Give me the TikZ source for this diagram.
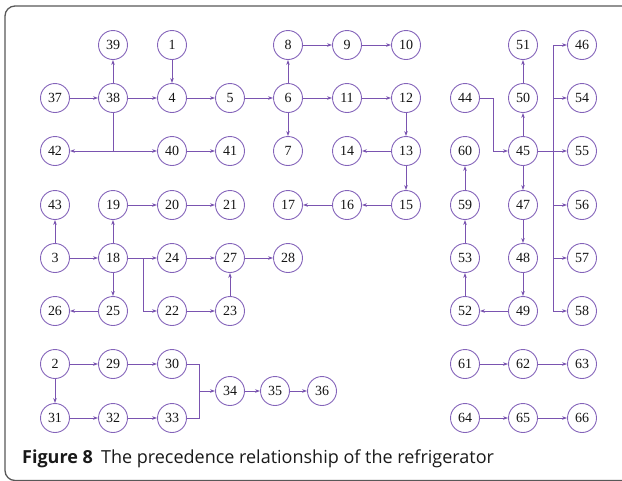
\documentclass[tikz,border=0pt]{standalone}
\usepackage{fontspec}
\setmainfont{Liberation Serif}
\newfontfamily\capfont{Open Sans}
\usetikzlibrary{arrows.meta}

\definecolor{nodecol}{RGB}{132,100,186}
\definecolor{edgecol}{RGB}{122,84,176}
\definecolor{framecol}{RGB}{88,88,88}
\definecolor{captext}{RGB}{25,25,25}
\definecolor{numtext}{RGB}{20,20,20}

\tikzset{
  task/.style={circle, draw=nodecol, line width=0.9pt, minimum size=29pt,
               inner sep=0pt, text=numtext, font=\fontsize{14}{14}\selectfont},
  link/.style={draw=edgecol, line width=0.9pt},
  arr/.style={link, -{Stealth[length=5pt,width=3.6pt]}},
}

\begin{document}
\begin{tikzpicture}[x=1pt, y=-1pt]
\useasboundingbox (0,0) rectangle (622,480);
\clip (0,0) rectangle (622,480);

% outer frame
\draw[framecol, line width=1.3pt, rounded corners=10pt] (626,6) -- (5,6) -- (5,480.5) -- (626,480.5);

% column and row positions
\def\ca{55}\def\cb{113}\def\cc{172}\def\cd{230}\def\ce{288}
\def\cf{347}\def\cg{406}\def\ch{465}\def\ci{523}\def\cj{582}
\def\ra{45}\def\rb{98}\def\rc{151}\def\rd{205}\def\re{258}
\def\rf{311}\def\rg{364}\def\rh{418}

% row 1
\node[task] (n39) at (\cb,\ra) {39};
\node[task] (n1)  at (\cc,\ra) {1};
\node[task] (n8)  at (\ce,\ra) {8};
\node[task] (n9)  at (\cf,\ra) {9};
\node[task] (n10) at (\cg,\ra) {10};
\node[task] (n51) at (\ci,\ra) {51};
\node[task] (n46) at (\cj,\ra) {46};
% row 2
\node[task] (n37) at (\ca,\rb) {37};
\node[task] (n38) at (\cb,\rb) {38};
\node[task] (n4)  at (\cc,\rb) {4};
\node[task] (n5)  at (\cd,\rb) {5};
\node[task] (n6)  at (\ce,\rb) {6};
\node[task] (n11) at (\cf,\rb) {11};
\node[task] (n12) at (\cg,\rb) {12};
\node[task] (n44) at (\ch,\rb) {44};
\node[task] (n50) at (\ci,\rb) {50};
\node[task] (n54) at (\cj,\rb) {54};
% row 3
\node[task] (n42) at (\ca,\rc) {42};
\node[task] (n40) at (\cc,\rc) {40};
\node[task] (n41) at (\cd,\rc) {41};
\node[task] (n7)  at (\ce,\rc) {7};
\node[task] (n14) at (\cf,\rc) {14};
\node[task] (n13) at (\cg,\rc) {13};
\node[task] (n60) at (\ch,\rc) {60};
\node[task] (n45) at (\ci,\rc) {45};
\node[task] (n55) at (\cj,\rc) {55};
% row 4
\node[task] (n43) at (\ca,\rd) {43};
\node[task] (n19) at (\cb,\rd) {19};
\node[task] (n20) at (\cc,\rd) {20};
\node[task] (n21) at (\cd,\rd) {21};
\node[task] (n17) at (\ce,\rd) {17};
\node[task] (n16) at (\cf,\rd) {16};
\node[task] (n15) at (\cg,\rd) {15};
\node[task] (n59) at (\ch,\rd) {59};
\node[task] (n47) at (\ci,\rd) {47};
\node[task] (n56) at (\cj,\rd) {56};
% row 5
\node[task] (n3)  at (\ca,\re) {3};
\node[task] (n18) at (\cb,\re) {18};
\node[task] (n24) at (\cc,\re) {24};
\node[task] (n27) at (\cd,\re) {27};
\node[task] (n28) at (\ce,\re) {28};
\node[task] (n53) at (\ch,\re) {53};
\node[task] (n48) at (\ci,\re) {48};
\node[task] (n57) at (\cj,\re) {57};
% row 6
\node[task] (n26) at (\ca,\rf) {26};
\node[task] (n25) at (\cb,\rf) {25};
\node[task] (n22) at (\cc,\rf) {22};
\node[task] (n23) at (\cd,\rf) {23};
\node[task] (n52) at (\ch,\rf) {52};
\node[task] (n49) at (\ci,\rf) {49};
\node[task] (n58) at (\cj,\rf) {58};
% rows 7 and 8
\node[task] (n2)  at (\ca,\rg) {2};
\node[task] (n29) at (\cb,\rg) {29};
\node[task] (n30) at (\cc,\rg) {30};
\node[task] (n61) at (\ch,\rg) {61};
\node[task] (n62) at (\ci,\rg) {62};
\node[task] (n63) at (\cj,\rg) {63};
\node[task] (n31) at (\ca,\rh) {31};
\node[task] (n32) at (\cb,\rh) {32};
\node[task] (n33) at (\cc,\rh) {33};
\node[task] (n64) at (\ch,\rh) {64};
\node[task] (n65) at (\ci,\rh) {65};
\node[task] (n66) at (\cj,\rh) {66};
\node[task] (n34) at (230,391) {34};
\node[task] (n35) at (275,391) {35};
\node[task] (n36) at (322,391) {36};

% junction points
\coordinate (j38) at (\cb,\rc);
\coordinate (j18) at (143,\re);
\coordinate (j34) at (199,391);
\coordinate (j44) at (493,\rb);
\coordinate (t1) at (553,\ra);
\coordinate (t2) at (553,\rb);
\coordinate (t4) at (553,\rd);
\coordinate (t5) at (553,\re);
\coordinate (t6) at (553,\rf);

% upper left block
\draw[arr] (n37) -- (n38);
\draw[arr] (n38) -- (n39);
\draw[arr] (n38) -- (n4);
\draw[arr] (n1) -- (n4);
\draw[arr] (n4) -- (n5);
\draw[arr] (n5) -- (n6);
\draw[arr] (n6) -- (n8);
\draw[arr] (n6) -- (n7);
\draw[arr] (n6) -- (n11);
\draw[arr] (n8) -- (n9);
\draw[arr] (n9) -- (n10);
\draw[arr] (n11) -- (n12);
\draw[arr] (n12) -- (n13);
\draw[arr] (n13) -- (n14);
\draw[arr] (n13) -- (n15);
\draw[arr] (n15) -- (n16);
\draw[arr] (n16) -- (n17);
\draw[link] (n38) -- (j38);
\draw[arr] (j38) -- (n42);
\draw[arr] (j38) -- (n40);
\draw[arr] (n40) -- (n41);

% middle left block
\draw[arr] (n3) -- (n43);
\draw[arr] (n3) -- (n18);
\draw[arr] (n18) -- (n19);
\draw[arr] (n19) -- (n20);
\draw[arr] (n20) -- (n21);
\draw[arr] (n18) -- (n25);
\draw[arr] (n25) -- (n26);
\draw[arr] (n18) -- (n24);
\draw[arr] (j18) |- (n22);
\draw[arr] (n24) -- (n27);
\draw[arr] (n27) -- (n28);
\draw[arr] (n22) -- (n23);
\draw[arr] (n23) -- (n27);

% lower left block
\draw[arr] (n2) -- (n29);
\draw[arr] (n29) -- (n30);
\draw[arr] (n2) -- (n31);
\draw[arr] (n31) -- (n32);
\draw[arr] (n32) -- (n33);
\draw[link] (n30) -| (j34);
\draw[link] (n33) -| (j34);
\draw[arr] (j34) -- (n34);
\draw[arr] (n34) -- (n35);
\draw[arr] (n35) -- (n36);

% right block
\draw[arr] (n44) -- (j44) |- (n45);
\draw[arr] (n45) -- (n50);
\draw[arr] (n50) -- (n51);
\draw[arr] (n45) -- (n55);
\draw[link] (t1) -- (t6);
\draw[arr] (t1) -- (n46);
\draw[arr] (t2) -- (n54);
\draw[arr] (t4) -- (n56);
\draw[arr] (t5) -- (n57);
\draw[arr] (t6) -- (n58);
\draw[arr] (n45) -- (n47);
\draw[arr] (n47) -- (n48);
\draw[arr] (n48) -- (n49);
\draw[arr] (n49) -- (n52);
\draw[arr] (n52) -- (n53);
\draw[arr] (n53) -- (n59);
\draw[arr] (n59) -- (n60);

% lower right block
\draw[arr] (n61) -- (n62);
\draw[arr] (n62) -- (n63);
\draw[arr] (n64) -- (n65);
\draw[arr] (n65) -- (n66);

% caption
\node[anchor=base west, inner sep=0pt, text=captext, font=\capfont\fontsize{18}{18}\selectfont]
  (cap) at (22,463) {\textbf{Figure 8}\hspace{0.45em}The precedence relationship of the refrigerator};
\end{tikzpicture}
\end{document}
